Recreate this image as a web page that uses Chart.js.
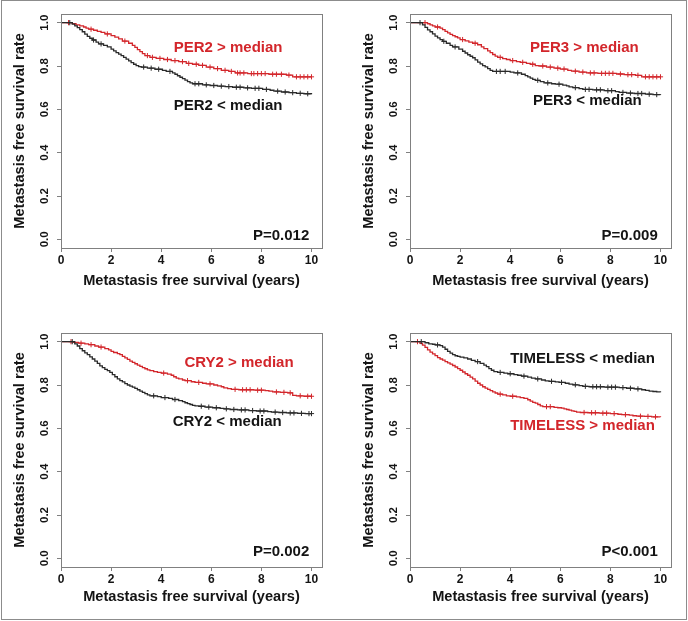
<!DOCTYPE html>
<html><head><meta charset="utf-8">
<script src="https://cdn.jsdelivr.net/npm/chart.js@4"></script>
<style>
html,body{margin:0;padding:0;background:#fff;}
#frame{position:absolute;left:1px;top:0;width:686px;height:620px;border:1px solid #8c8c8c;box-sizing:border-box;}
.p{position:absolute;width:340px;height:300px;}
</style></head><body>
<div id="frame"></div>
<div class="p" style="left:0;top:0"><canvas id="c1"></canvas></div>
<div class="p" style="left:349px;top:0"><canvas id="c2"></canvas></div>
<div class="p" style="left:0;top:319px"><canvas id="c3"></canvas></div>
<div class="p" style="left:349px;top:319px"><canvas id="c4"></canvas></div>
<script>
// ---- tick labels ----
const xTicks = [0, 2, 4, 6, 8, 10];
const yTicks = [0.0, 0.2, 0.4, 0.6, 0.8, 1.0];
const xTitle = 'Metastasis free survival (years)';
const yTitle = 'Metastasis free survival rate';

// ---- Kaplan-Meier curves: [time (years), survival]; a point repeating the previous level is a censored case ----
const per2High = [[0,1],[0.3,1],[0.45,0.996],[0.6,0.99],[0.75,0.985],[0.9,0.98],[1.0,0.975],[1.1,0.97],[1.2,0.97],[1.3,0.965],[1.45,0.96],[1.6,0.955],[1.75,0.948],[1.85,0.948],[2.0,0.94],[2.15,0.933],[2.3,0.925],[2.45,0.915],[2.55,0.915],[2.7,0.905],[2.85,0.895],[2.95,0.886],[3.05,0.876],[3.15,0.866],[3.25,0.857],[3.35,0.848],[3.45,0.848],[3.55,0.84],[3.65,0.84],[3.8,0.835],[3.95,0.835],[4.1,0.83],[4.25,0.83],[4.4,0.825],[4.55,0.825],[4.7,0.82],[4.85,0.82],[5.0,0.812],[5.1,0.812],[5.25,0.808],[5.4,0.808],[5.5,0.803],[5.65,0.803],[5.8,0.795],[5.95,0.795],[6.1,0.788],[6.25,0.788],[6.4,0.78],[6.55,0.78],[6.7,0.775],[6.8,0.775],[6.95,0.768],[7.05,0.768],[7.15,0.768],[7.3,0.768],[7.45,0.765],[7.6,0.765],[7.7,0.765],[7.85,0.765],[8.0,0.765],[8.15,0.765],[8.3,0.762],[8.45,0.762],[8.6,0.762],[8.8,0.762],[9.0,0.758],[9.1,0.758],[9.25,0.75],[9.4,0.75],[9.55,0.75],[9.7,0.75],[9.85,0.75],[10.0,0.75]];
const per2Low = [[0,1],[0.35,1],[0.45,0.993],[0.55,0.985],[0.65,0.977],[0.75,0.968],[0.85,0.958],[0.95,0.947],[1.05,0.937],[1.15,0.928],[1.25,0.92],[1.3,0.92],[1.4,0.91],[1.5,0.902],[1.6,0.902],[1.7,0.895],[1.85,0.888],[2.0,0.878],[2.1,0.87],[2.2,0.862],[2.3,0.855],[2.4,0.848],[2.5,0.84],[2.6,0.832],[2.7,0.824],[2.8,0.816],[2.9,0.808],[3.0,0.802],[3.1,0.797],[3.2,0.795],[3.3,0.795],[3.45,0.79],[3.6,0.79],[3.75,0.785],[3.9,0.785],[4.05,0.78],[4.2,0.775],[4.35,0.775],[4.45,0.768],[4.55,0.762],[4.65,0.755],[4.75,0.748],[4.85,0.742],[4.95,0.735],[5.05,0.728],[5.15,0.722],[5.25,0.718],[5.35,0.718],[5.5,0.718],[5.65,0.713],[5.8,0.713],[5.95,0.71],[6.1,0.71],[6.25,0.707],[6.4,0.707],[6.55,0.705],[6.7,0.705],[6.85,0.702],[7.0,0.702],[7.15,0.702],[7.3,0.699],[7.45,0.699],[7.6,0.697],[7.75,0.697],[7.9,0.697],[8.05,0.692],[8.2,0.692],[8.35,0.688],[8.5,0.684],[8.65,0.684],[8.8,0.68],[8.95,0.68],[9.1,0.677],[9.25,0.677],[9.4,0.674],[9.55,0.674],[9.7,0.672],[9.85,0.672],[10.0,0.67]];

const per3High = [[0,1],[0.6,1],[0.7,0.995],[0.8,0.99],[0.9,0.985],[1.0,0.98],[1.1,0.98],[1.2,0.975],[1.3,0.968],[1.4,0.96],[1.5,0.953],[1.6,0.946],[1.7,0.94],[1.8,0.935],[1.9,0.93],[2.0,0.922],[2.1,0.922],[2.2,0.916],[2.35,0.91],[2.5,0.905],[2.6,0.905],[2.7,0.898],[2.85,0.888],[2.95,0.88],[3.1,0.87],[3.2,0.862],[3.3,0.853],[3.4,0.846],[3.5,0.84],[3.6,0.84],[3.7,0.834],[3.85,0.83],[4.0,0.825],[4.1,0.825],[4.25,0.82],[4.4,0.817],[4.5,0.817],[4.65,0.812],[4.8,0.808],[4.9,0.808],[5.0,0.802],[5.15,0.8],[5.3,0.8],[5.45,0.795],[5.6,0.795],[5.75,0.79],[5.9,0.79],[6.0,0.786],[6.15,0.786],[6.3,0.78],[6.45,0.776],[6.6,0.776],[6.75,0.772],[6.9,0.772],[7.05,0.768],[7.2,0.768],[7.35,0.768],[7.5,0.766],[7.65,0.766],[7.8,0.766],[7.95,0.766],[8.1,0.766],[8.25,0.763],[8.4,0.763],[8.55,0.76],[8.7,0.76],[8.85,0.76],[9.0,0.757],[9.1,0.757],[9.25,0.75],[9.4,0.75],[9.55,0.75],[9.7,0.75],[9.85,0.75],[10.0,0.75]];
const per3Low = [[0,1],[0.4,1],[0.5,0.99],[0.6,0.978],[0.7,0.967],[0.8,0.958],[0.9,0.948],[1.0,0.938],[1.1,0.93],[1.2,0.922],[1.3,0.914],[1.35,0.914],[1.45,0.905],[1.6,0.895],[1.7,0.888],[1.8,0.888],[1.95,0.878],[2.1,0.868],[2.2,0.86],[2.3,0.852],[2.4,0.845],[2.5,0.838],[2.6,0.828],[2.7,0.818],[2.8,0.81],[2.9,0.802],[3.0,0.796],[3.1,0.788],[3.2,0.78],[3.3,0.775],[3.45,0.775],[3.6,0.775],[3.8,0.775],[4.0,0.772],[4.15,0.768],[4.3,0.768],[4.45,0.762],[4.6,0.756],[4.7,0.75],[4.8,0.744],[4.9,0.738],[5.0,0.734],[5.1,0.734],[5.2,0.728],[5.35,0.722],[5.5,0.722],[5.65,0.718],[5.8,0.716],[5.95,0.716],[6.1,0.712],[6.25,0.708],[6.35,0.704],[6.5,0.7],[6.6,0.7],[6.75,0.696],[6.9,0.692],[7.0,0.692],[7.15,0.692],[7.3,0.69],[7.45,0.69],[7.6,0.69],[7.75,0.686],[7.9,0.686],[8.05,0.686],[8.2,0.682],[8.35,0.678],[8.5,0.678],[8.65,0.675],[8.8,0.675],[8.95,0.673],[9.1,0.673],[9.25,0.673],[9.4,0.67],[9.55,0.67],[9.7,0.668],[9.85,0.668],[10.0,0.667]];

const cry2High = [[0,1],[0.4,1],[0.5,0.997],[0.7,0.993],[0.8,0.993],[0.95,0.99],[1.1,0.986],[1.2,0.986],[1.35,0.98],[1.5,0.975],[1.6,0.975],[1.75,0.968],[1.9,0.962],[2.0,0.955],[2.1,0.95],[2.25,0.945],[2.35,0.94],[2.45,0.932],[2.55,0.925],[2.65,0.918],[2.75,0.91],[2.85,0.904],[2.95,0.898],[3.05,0.892],[3.15,0.886],[3.25,0.88],[3.35,0.875],[3.45,0.87],[3.55,0.866],[3.7,0.862],[3.85,0.858],[4.0,0.855],[4.1,0.855],[4.25,0.85],[4.4,0.845],[4.5,0.838],[4.6,0.832],[4.7,0.828],[4.85,0.823],[4.95,0.82],[5.05,0.82],[5.2,0.815],[5.35,0.812],[5.5,0.812],[5.65,0.808],[5.8,0.805],[5.95,0.805],[6.1,0.8],[6.25,0.796],[6.4,0.792],[6.5,0.787],[6.65,0.783],[6.8,0.78],[6.95,0.78],[7.1,0.778],[7.25,0.778],[7.4,0.778],[7.55,0.778],[7.7,0.776],[7.85,0.776],[8.0,0.776],[8.15,0.774],[8.3,0.772],[8.45,0.768],[8.6,0.768],[8.75,0.766],[8.9,0.766],[9.05,0.764],[9.15,0.764],[9.25,0.752],[9.4,0.75],[9.55,0.75],[9.7,0.748],[9.85,0.748],[10.0,0.748]];
const cry2Low = [[0,1],[0.45,1],[0.55,0.99],[0.65,0.98],[0.75,0.968],[0.85,0.958],[0.95,0.948],[1.05,0.94],[1.15,0.93],[1.25,0.92],[1.35,0.91],[1.45,0.9],[1.55,0.888],[1.65,0.88],[1.75,0.872],[1.85,0.866],[1.95,0.858],[2.05,0.848],[2.15,0.838],[2.25,0.828],[2.35,0.82],[2.45,0.814],[2.55,0.806],[2.65,0.8],[2.75,0.795],[2.85,0.79],[2.95,0.784],[3.05,0.778],[3.15,0.772],[3.25,0.766],[3.35,0.76],[3.45,0.754],[3.55,0.75],[3.7,0.75],[3.85,0.746],[4.0,0.742],[4.15,0.742],[4.3,0.738],[4.45,0.733],[4.55,0.733],[4.7,0.728],[4.85,0.723],[4.95,0.718],[5.05,0.714],[5.15,0.71],[5.25,0.706],[5.35,0.704],[5.5,0.702],[5.6,0.702],[5.75,0.698],[5.9,0.698],[6.05,0.695],[6.2,0.695],[6.35,0.692],[6.5,0.69],[6.6,0.69],[6.75,0.687],[6.9,0.687],[7.05,0.685],[7.2,0.685],[7.35,0.685],[7.5,0.682],[7.65,0.682],[7.8,0.68],[7.95,0.68],[8.1,0.68],[8.25,0.677],[8.4,0.675],[8.55,0.675],[8.7,0.673],[8.85,0.673],[9.0,0.671],[9.15,0.671],[9.3,0.671],[9.45,0.669],[9.6,0.669],[9.75,0.668],[9.9,0.668],[10.0,0.668]];

const timelessLow = [[0,1],[0.45,1],[0.6,0.995],[0.75,0.99],[0.9,0.988],[1.0,0.985],[1.1,0.985],[1.2,0.982],[1.3,0.975],[1.4,0.965],[1.5,0.955],[1.6,0.947],[1.7,0.94],[1.8,0.935],[1.9,0.932],[2.0,0.929],[2.15,0.925],[2.3,0.92],[2.45,0.914],[2.6,0.908],[2.7,0.908],[2.8,0.9],[2.95,0.892],[3.05,0.885],[3.15,0.876],[3.25,0.868],[3.35,0.862],[3.5,0.858],[3.6,0.858],[3.75,0.855],[3.9,0.852],[4.0,0.852],[4.15,0.848],[4.3,0.845],[4.45,0.841],[4.55,0.841],[4.7,0.836],[4.85,0.832],[5.0,0.828],[5.1,0.828],[5.25,0.823],[5.4,0.819],[5.55,0.817],[5.65,0.817],[5.8,0.814],[5.95,0.812],[6.05,0.812],[6.2,0.808],[6.35,0.804],[6.5,0.801],[6.6,0.801],[6.75,0.797],[6.9,0.794],[7.0,0.794],[7.15,0.792],[7.3,0.792],[7.45,0.792],[7.6,0.792],[7.75,0.79],[7.9,0.79],[8.05,0.79],[8.2,0.79],[8.35,0.788],[8.5,0.788],[8.65,0.785],[8.8,0.785],[8.95,0.782],[9.1,0.782],[9.25,0.778],[9.4,0.775],[9.55,0.772],[9.7,0.77],[9.85,0.768],[10.0,0.767]];
const timelessHigh = [[0,1],[0.3,1],[0.4,0.992],[0.5,0.984],[0.6,0.974],[0.7,0.962],[0.8,0.952],[0.9,0.944],[1.0,0.936],[1.1,0.926],[1.2,0.92],[1.3,0.915],[1.4,0.908],[1.5,0.902],[1.6,0.896],[1.7,0.89],[1.8,0.883],[1.9,0.876],[2.0,0.868],[2.1,0.86],[2.2,0.852],[2.3,0.845],[2.4,0.836],[2.5,0.828],[2.6,0.818],[2.7,0.808],[2.8,0.8],[2.9,0.792],[3.0,0.786],[3.1,0.78],[3.2,0.774],[3.3,0.768],[3.4,0.763],[3.5,0.758],[3.6,0.758],[3.7,0.754],[3.85,0.75],[4.0,0.748],[4.1,0.748],[4.25,0.745],[4.4,0.742],[4.55,0.738],[4.7,0.732],[4.8,0.726],[4.9,0.72],[5.0,0.716],[5.1,0.71],[5.2,0.704],[5.3,0.7],[5.45,0.7],[5.6,0.7],[5.75,0.697],[5.9,0.695],[6.05,0.693],[6.15,0.69],[6.25,0.687],[6.35,0.684],[6.45,0.681],[6.55,0.678],[6.65,0.675],[6.8,0.673],[6.95,0.673],[7.1,0.672],[7.25,0.672],[7.4,0.672],[7.55,0.67],[7.7,0.67],[7.85,0.67],[8.0,0.668],[8.15,0.668],[8.3,0.665],[8.45,0.663],[8.6,0.663],[8.75,0.661],[8.9,0.658],[9.05,0.656],[9.2,0.656],[9.35,0.655],[9.5,0.655],[9.65,0.653],[9.8,0.653],[10.0,0.652]];

const RED = '#d3262b', BLACK = '#2a2a2a', TXT = '#141414', GRAY = '#808080';
const FAMILY = '"Liberation Sans", Arial, Helvetica, sans-serif';

const boxPlugin = {
  id: 'box',
  afterDraw(chart) {
    const {ctx, chartArea: a} = chart;
    ctx.save();
    ctx.strokeStyle = GRAY; ctx.lineWidth = 1;
    ctx.strokeRect(Math.round(a.left) + 0.5, Math.round(a.top) + 0.5, Math.round(a.right - a.left), Math.round(a.bottom - a.top));
    ctx.restore();
  }
};
const textPlugin = {
  id: 'panelText',
  afterDatasetsDraw(chart, args, opts) {
    const {ctx, scales: {x, y}} = chart;
    ctx.save();
    ctx.font = 'bold 15px ' + FAMILY;
    ctx.textBaseline = 'middle';
    for (const it of opts.items) {
      ctx.fillStyle = it.color;
      ctx.textAlign = it.align || 'left';
      ctx.fillText(it.text, x.getPixelForValue(it.x), y.getPixelForValue(it.y));
    }
    ctx.restore();
  }
};

function censorRadius(ctx) {
  const d = ctx.dataset.data, i = ctx.dataIndex;
  return (i > 0 && d[i][1] === d[i - 1][1]) ? 2.6 : 0;
}
function curve(data, color) {
  return {
    data, borderColor: color, backgroundColor: color, borderWidth: 1.3,
    stepped: true, fill: false, tension: 0,
    pointStyle: 'cross', pointRadius: censorRadius, pointBorderWidth: 1,
    pointBorderColor: color, pointHoverRadius: 0, pointHitRadius: 0
  };
}

function makeChart(id, lowData, highData, items, xTitlePad) {
  new Chart(document.getElementById(id), {
    type: 'line',
    data: { datasets: [curve(lowData, BLACK), curve(highData, RED)] },
    options: {
      responsive: true, maintainAspectRatio: false, animation: false,
      layout: { padding: { left: 0, top: 14, right: 18, bottom: 0 } },
      plugins: { legend: { display: false }, tooltip: { enabled: false }, panelText: { items } },
      scales: {
        x: {
          type: 'linear', min: 0, max: 10.42,
          afterBuildTicks: s => { s.ticks = xTicks.map(v => ({ value: v })); },
          afterFit: s => { s.height = 52; },
          ticks: { autoSkip: false, maxRotation: 0, padding: 1, color: TXT,
                   font: { family: FAMILY, size: 12, weight: 'bold' }, callback: v => String(v) },
          grid: { drawOnChartArea: false, drawTicks: true, tickLength: 4, color: GRAY, tickColor: GRAY },
          border: { display: true, color: GRAY },
          title: { display: true, text: xTitle, color: TXT, padding: { top: 0, bottom: xTitlePad },
                   font: { family: FAMILY, size: 14.6, weight: 'bold' } }
        },
        y: {
          type: 'linear', min: -0.04, max: 1.04,
          afterBuildTicks: s => { s.ticks = yTicks.map(v => ({ value: v })); },
          afterFit: s => { s.width = 61; },
          ticks: { autoSkip: false, minRotation: 90, maxRotation: 90, crossAlign: 'center', padding: 4, color: TXT,
                   font: { family: FAMILY, size: 11.5, weight: 'bold' }, callback: v => v.toFixed(1) },
          grid: { drawOnChartArea: false, drawTicks: true, tickLength: 4, color: GRAY, tickColor: GRAY },
          border: { display: true, color: GRAY },
          title: { display: true, text: yTitle, color: TXT, padding: { top: 11, bottom: 0 },
                   font: { family: FAMILY, size: 14.6, weight: 'bold' } }
        }
      }
    },
    plugins: [boxPlugin, textPlugin]
  });
}

makeChart('c1', per2Low, per2High, [
  { text: 'PER2 > median', x: 4.5, y: 0.886, color: RED },
  { text: 'PER2 < median', x: 4.5, y: 0.614, color: TXT },
  { text: 'P=0.012', x: 9.91, y: 0.018, color: TXT, align: 'right' }
], 10.7);
makeChart('c2', per3Low, per3High, [
  { text: 'PER3 > median', x: 4.79, y: 0.886, color: RED },
  { text: 'PER3 < median', x: 4.91, y: 0.637, color: TXT },
  { text: 'P=0.009', x: 9.89, y: 0.018, color: TXT, align: 'right' }
], 10.7);
makeChart('c3', cry2Low, cry2High, [
  { text: 'CRY2 > median', x: 4.93, y: 0.903, color: RED },
  { text: 'CRY2 < median', x: 4.46, y: 0.63, color: TXT },
  { text: 'P=0.002', x: 9.91, y: 0.029, color: TXT, align: 'right' }
], 13);
makeChart('c4', timelessLow, timelessHigh, [
  { text: 'TIMELESS < median', x: 4.0, y: 0.921, color: TXT },
  { text: 'TIMELESS > median', x: 4.0, y: 0.612, color: RED },
  { text: 'P<0.001', x: 9.89, y: 0.029, color: TXT, align: 'right' }
], 13);
</script>
</body></html>
